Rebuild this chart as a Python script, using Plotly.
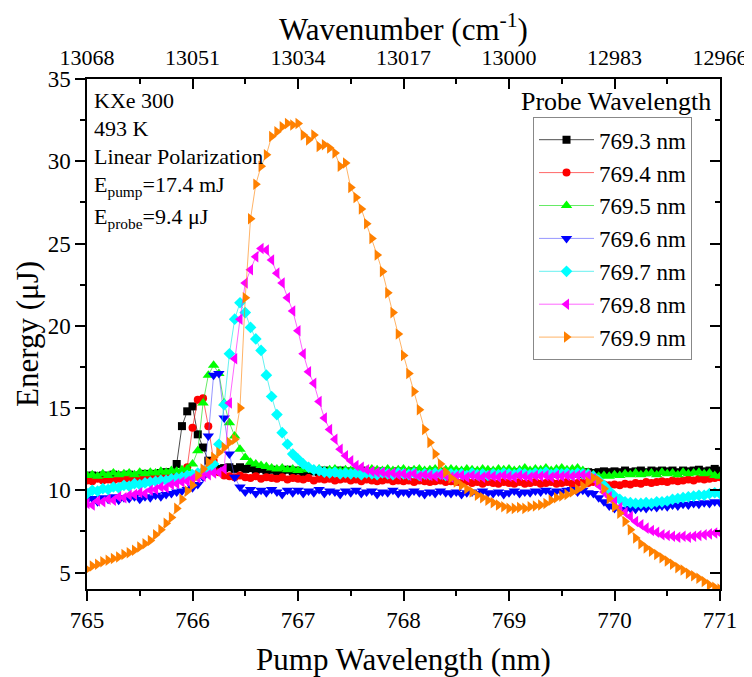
import numpy as np
import plotly.graph_objects as go

# Pump wavelength grid (nm)
wavelength = np.round(np.arange(765.0, 771.0001, 0.05), 2)

series_names = ["769.3 nm", "769.4 nm", "769.5 nm", "769.6 nm", "769.7 nm", "769.8 nm", "769.9 nm"]

e_7693 = [
    10.8, 10.9, 10.85, 10.9, 10.8, 10.95, 10.85, 10.9, 10.95, 10.85,
    10.9, 11.0, 10.9, 11.0, 11.05, 11.1, 11.1, 11.6, 13.9, 14.8,
    15.1, 13.4, 12.6, 11.8, 11.4, 11.3, 11.35, 11.4, 11.3, 11.4,
    11.3, 11.35, 11.25, 11.3, 11.2, 11.25, 11.15, 11.2, 11.25, 11.15,
    11.2, 11.1, 11.2, 11.15, 11.1, 11.2, 11.15, 11.1, 11.2, 11.1,
    11.15, 11.1, 11.2, 11.1, 11.15, 11.05, 11.15, 11.1, 11.05, 11.15,
    11.1, 11.05, 11.15, 11.1, 11.05, 11.1, 11.15, 11.05, 11.1, 11.05,
    11.1, 11.05, 11.1, 11.0, 11.1, 11.05, 11.1, 11.0, 11.05, 11.1,
    11.05, 11.1, 11.0, 11.05, 11.1, 11.0, 11.05, 11.1, 11.05, 11.0,
    11.05, 11.1, 11.05, 11.0, 11.05, 11.1, 11.05, 11.1, 11.15, 11.1,
    11.15, 11.1, 11.2, 11.1, 11.15, 11.2, 11.1, 11.2, 11.15, 11.2,
    11.15, 11.2, 11.1, 11.2, 11.15, 11.2, 11.25, 11.15, 11.2, 11.3,
    11.2,
]
e_7694 = [
    10.6, 10.55, 10.7, 10.6, 10.65, 10.6, 10.7, 10.65, 10.7, 10.65,
    10.7, 10.75, 10.7, 10.8, 10.75, 10.8, 10.85, 10.9, 10.95, 11.4,
    13.8, 15.5, 15.6, 13.9, 11.8, 11.1, 10.9, 10.85, 10.8, 10.9,
    10.8, 10.75, 10.85, 10.7, 10.8, 10.75, 10.7, 10.8, 10.65, 10.75,
    10.7, 10.65, 10.75, 10.6, 10.7, 10.65, 10.7, 10.6, 10.65, 10.7,
    10.6, 10.65, 10.55, 10.65, 10.6, 10.55, 10.6, 10.65, 10.55, 10.6,
    10.55, 10.6, 10.5, 10.6, 10.55, 10.5, 10.55, 10.6, 10.5, 10.55,
    10.5, 10.45, 10.55, 10.45, 10.5, 10.4, 10.5, 10.45, 10.4, 10.5,
    10.45, 10.4, 10.5, 10.4, 10.45, 10.5, 10.4, 10.45, 10.5, 10.4,
    10.45, 10.5, 10.4, 10.45, 10.5, 10.45, 10.5, 10.4, 10.35, 10.3,
    10.35, 10.3, 10.4, 10.35, 10.45, 10.4, 10.5, 10.45, 10.5, 10.55,
    10.5, 10.6, 10.55, 10.6, 10.65, 10.6, 10.7, 10.65, 10.7, 10.75,
    10.8,
]
e_7695 = [
    10.9, 10.95, 10.85, 11.0, 10.9, 11.05, 10.95, 11.0, 11.05, 10.95,
    11.1, 11.0, 11.1, 11.05, 11.15, 11.1, 11.2, 11.15, 11.25, 11.3,
    11.6, 12.4, 15.3, 17.0, 17.6, 17.1, 15.3, 14.1, 13.3, 12.5,
    12.0, 11.7, 11.6, 11.5, 11.45, 11.35, 11.3, 11.35, 11.25, 11.3,
    11.2, 11.3, 11.25, 11.2, 11.3, 11.2, 11.25, 11.3, 11.2, 11.25,
    11.2, 11.3, 11.25, 11.2, 11.3, 11.25, 11.2, 11.3, 11.2, 11.25,
    11.3, 11.2, 11.25, 11.3, 11.2, 11.25, 11.3, 11.2, 11.25, 11.3,
    11.25, 11.2, 11.3, 11.25, 11.2, 11.3, 11.25, 11.2, 11.3, 11.25,
    11.3, 11.2, 11.25, 11.35, 11.2, 11.3, 11.25, 11.35, 11.2, 11.3,
    11.35, 11.25, 11.3, 11.35, 11.2, 11.1, 10.95, 10.85, 10.9, 10.85,
    10.95, 10.9, 11.0, 10.95, 11.05, 10.95, 11.0, 11.05, 10.95, 11.1,
    11.0, 11.05, 10.95, 11.1, 11.0, 11.05, 11.1, 11.0, 11.05, 10.9,
    10.85,
]
e_7696 = [
    9.4, 9.5, 9.3, 9.55, 9.45, 9.6, 9.4, 9.55, 9.5, 9.6,
    9.45, 9.6, 9.55, 9.7, 9.6, 9.75, 9.8, 9.9, 9.95, 10.05,
    10.15, 10.35, 10.8, 13.3, 17.0, 17.1, 14.4, 12.2, 10.8, 10.2,
    9.9, 10.05, 9.8, 10.0, 9.85, 10.05, 9.9, 9.75, 10.0, 9.85,
    10.0, 9.8, 9.95, 9.85, 10.05, 9.8, 9.95, 9.9, 9.75, 9.95,
    9.85, 10.0, 9.8, 9.9, 9.95, 9.75, 9.9, 9.85, 10.0, 9.8,
    9.9, 9.8, 9.95, 9.85, 9.75, 9.9, 9.8, 9.95, 9.85, 9.8,
    9.9, 9.75, 9.85, 9.9, 9.8, 9.95, 9.85, 9.8, 9.9, 9.75,
    9.85, 9.95, 9.8, 9.9, 9.85, 9.95, 9.9, 10.0, 9.85, 9.95,
    9.9, 10.0, 10.05, 9.9, 10.0, 9.85, 9.8, 9.55, 9.3, 9.05,
    8.9, 8.85, 8.8, 8.9, 8.85, 8.95, 8.9, 9.0, 8.95, 9.05,
    9.0, 9.1, 9.05, 9.15, 9.1, 9.2, 9.15, 9.25, 9.2, 9.3,
    9.25,
]
e_7697 = [
    9.8, 10.0, 9.95, 10.1, 10.05, 10.2, 10.15, 10.3, 10.25, 10.4,
    10.35, 10.45, 10.5, 10.55, 10.6, 10.6, 10.7, 10.75, 10.8, 10.9,
    10.95, 11.05, 11.15, 11.3, 11.6, 12.8, 15.2, 18.3, 20.4, 21.4,
    20.8, 19.9, 19.2, 18.5, 17.0, 15.7, 14.6, 13.5, 12.8, 12.2,
    11.9, 11.6, 11.4, 11.25, 11.2, 11.1, 11.05, 11.1, 11.0, 11.05,
    11.0, 11.05, 10.95, 11.05, 11.0, 10.95, 11.05, 11.0, 10.95, 11.05,
    11.0, 10.95, 11.05, 10.9, 11.0, 10.95, 11.05, 11.0, 10.9, 11.0,
    10.95, 11.0, 10.9, 11.05, 10.95, 11.0, 10.9, 11.0, 10.95, 11.05,
    11.0, 10.95, 11.05, 11.0, 10.95, 11.05, 11.0, 11.1, 10.95, 11.05,
    11.0, 11.05, 10.95, 11.05, 11.0, 10.95, 10.85, 10.6, 10.3, 9.95,
    9.65, 9.45, 9.3, 9.25, 9.2, 9.2, 9.25, 9.2, 9.3, 9.3,
    9.35, 9.45, 9.5, 9.55, 9.6, 9.65, 9.7, 9.7, 9.8, 9.85,
    9.8,
]
e_7698 = [
    9.2, 9.1, 9.35, 9.3, 9.45, 9.4, 9.6, 9.55, 9.7, 9.75,
    9.85, 9.8, 10.0, 10.05, 10.2, 10.15, 10.35, 10.4, 10.5, 10.55,
    10.7, 10.75, 10.85, 10.95, 11.05, 11.1, 11.3, 15.3, 18.0, 20.4,
    22.6, 23.4, 24.2, 24.7, 24.6, 24.0, 23.2, 22.6, 21.7, 20.9,
    19.7, 18.3, 17.2, 16.5, 15.4, 14.4, 13.7, 13.1, 12.5, 12.1,
    11.8, 11.5, 11.4, 11.25, 11.15, 11.1, 11.1, 11.0, 11.05, 10.95,
    11.0, 10.9, 11.0, 10.85, 10.95, 10.9, 10.85, 10.95, 10.9, 10.8,
    10.85, 10.9, 10.8, 10.9, 10.85, 10.8, 10.9, 10.85, 10.8, 10.9,
    10.85, 10.8, 10.9, 10.85, 10.8, 10.9, 10.85, 10.9, 10.8, 10.9,
    10.85, 10.9, 10.85, 10.9, 10.95, 10.9, 10.7, 10.3, 9.9, 9.6,
    9.3, 8.95, 8.65, 8.4, 8.1, 7.9, 7.7, 7.55, 7.45, 7.3,
    7.25, 7.2, 7.15, 7.2, 7.15, 7.2, 7.25, 7.3, 7.35, 7.4,
    7.4,
]
e_7699 = [
    5.2, 5.4, 5.5, 5.65, 5.75, 5.85, 5.95, 6.1, 6.2, 6.35,
    6.55, 6.75, 6.95, 7.3, 7.6, 8.0, 8.35, 8.9, 9.45, 9.95,
    10.3, 10.9, 11.3, 11.7, 12.0, 12.3, 12.6, 12.9, 13.1, 15.0,
    21.7, 26.5, 28.6, 29.7, 30.4, 31.5, 31.8, 32.1, 32.3, 32.2,
    32.3, 31.6, 31.3, 31.6, 30.9, 31.0, 30.8, 30.5, 29.7, 29.9,
    28.4, 27.8, 27.1, 26.2, 25.3, 24.3, 23.3, 22.0, 20.8, 19.5,
    18.2, 17.1, 16.0, 14.9, 13.7, 12.9, 12.2, 11.6, 11.1, 10.75,
    10.5, 10.3, 10.1, 9.9, 9.7, 9.55, 9.4, 9.25, 9.1, 9.0,
    8.9, 8.9, 8.95, 8.9, 9.0, 9.05, 9.1, 9.2, 9.4, 9.55,
    9.65, 9.75, 9.9, 10.05, 10.25, 10.5, 10.75, 10.6, 10.1, 9.5,
    9.0, 8.6, 8.1, 7.6, 7.1, 6.75, 6.5, 6.3, 6.1, 5.9,
    5.7, 5.5, 5.3, 5.15, 4.95, 4.8, 4.65, 4.45, 4.25, 4.1,
    4.0,
]

series_values = [e_7693, e_7694, e_7695, e_7696, e_7697, e_7698, e_7699]
colors = ["#000000", "#FF0000", "#00FF00", "#0000FF", "#00FFFF", "#FF00FF", "#FF8000"]
line_colors = ["rgba(0,0,0,0.7)", "rgba(255,0,0,0.6)", "rgba(0,220,0,0.6)", "rgba(80,80,255,0.6)",
               "rgba(0,230,230,0.6)", "rgba(255,0,255,0.6)", "rgba(255,128,0,0.6)"]
symbols = ["square", "circle", "triangle-up", "triangle-down", "diamond", "triangle-left", "triangle-right"]
marker_sizes = [8, 8, 10, 10, 9, 10, 10]

bottom_ticks = [765, 766, 767, 768, 769, 770, 771]
top_tick_labels = ["13068", "13051", "13034", "13017", "13000", "12983", "12966"]
y_ticks = [5, 10, 15, 20, 25, 30, 35]

info_lines = ["KXe 300", "493 K", "Linear Polarization",
              "E<sub>pump</sub>=17.4 mJ", "E<sub>probe</sub>=9.4 μJ"]

FONT = "Liberation Serif"

fig = go.Figure()
for name, vals, c, lc, s, ms in zip(series_names, series_values, colors, line_colors, symbols, marker_sizes):
    fig.add_trace(go.Scatter(
        x=wavelength, y=vals, name=name, mode="lines+markers",
        line=dict(color=lc, width=1),
        marker=dict(symbol=s, color=c, size=ms, line=dict(width=0)),
    ))

# helper trace so top/right axes are drawn
fig.add_trace(go.Scatter(x=[], y=[], xaxis="x2", yaxis="y2", showlegend=False, hoverinfo="skip"))

axis_common = dict(showline=True, linecolor="black", linewidth=1.5, showgrid=False, zeroline=False,
                   tickcolor="black", tickwidth=1.5, automargin=False)
tick_font = dict(family=FONT, size=23, color="black")

# page body has an 8px default margin: figure is sized so the plot lands where the reference has it
fig.update_layout(
    template="none",
    width=744, height=669,
    margin=dict(l=79, r=32, t=71, b=88),
    paper_bgcolor="white", plot_bgcolor="white",
    font=dict(family=FONT, color="black", size=23),
    xaxis=dict(range=[765, 771], tickvals=bottom_ticks, ticks="outside", ticklen=10,
               tickfont=tick_font,
               minor=dict(dtick=0.5, tick0=765, ticks="outside", ticklen=5, tickwidth=1.5, tickcolor="black"),
               title=dict(text="Pump Wavelength (nm)", font=dict(size=31, family=FONT), standoff=17),
               **axis_common),
    xaxis2=dict(range=[765, 771], overlaying="x", side="top", anchor="y2",
                tickvals=bottom_ticks, ticktext=top_tick_labels, ticks="inside", ticklen=10,
                tickfont=dict(family=FONT, size=22, color="black"), ticklabelstandoff=3,
                minor=dict(dtick=0.5, tick0=765, ticks="inside", ticklen=5, tickwidth=1.5, tickcolor="black"),
                title=dict(text="Wavenumber (cm<sup>-1</sup>)", font=dict(size=31, family=FONT), standoff=1),
                **axis_common),
    yaxis=dict(range=[4, 35], tickvals=y_ticks, ticks="outside", ticklen=10,
               tickfont=tick_font,
               minor=dict(dtick=2.5, tick0=5, ticks="outside", ticklen=5, tickwidth=1.5, tickcolor="black"),
               title=dict(text="Energy (μJ)", font=dict(size=31, family=FONT), standoff=0),
               **axis_common),
    yaxis2=dict(range=[4, 35], overlaying="y", side="right", anchor="x2",
                tickvals=y_ticks, ticks="inside", ticklen=10, showticklabels=False,
                minor=dict(dtick=2.5, tick0=5, ticks="inside", ticklen=5, tickwidth=1.5, tickcolor="black"),
                **axis_common),
    legend=dict(x=0.7046, y=0.925, xanchor="left", yanchor="top",
                bordercolor="#888888", borderwidth=1, bgcolor="rgba(255,255,255,0)",
                font=dict(size=23, family=FONT, color="black"), itemwidth=55, tracegroupgap=0),
    showlegend=True,
)

# legend heading placed above the legend box
fig.add_annotation(text="Probe Wavelength", xref="paper", yref="paper", x=0.989, y=0.955,
                   xanchor="right", yanchor="middle", showarrow=False, font=dict(size=26, family=FONT))

info_y = [0.9575, 0.9033, 0.849, 0.790, 0.728]
for txt, yy in zip(info_lines, info_y):
    fig.add_annotation(text=txt, xref="paper", yref="paper", x=0.008, y=yy,
                       xanchor="left", yanchor="middle", showarrow=False,
                       font=dict(size=22, family=FONT))

fig.write_html("out.html")
